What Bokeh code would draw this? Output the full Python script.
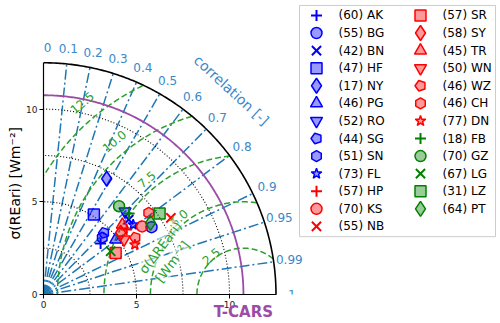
import numpy as np
from bokeh.plotting import figure
from bokeh.models import Range1d, FixedTicker, Label, Title, LinearAxis
from bokeh.core.properties import value
from bokeh.embed import file_html
from bokeh.resources import INLINE

# ---------------- data ----------------
stations = ["AK", "BG", "BN", "HF", "NY", "PG", "RO", "SG", "SN", "FL",
            "HP", "KS", "NB", "SR", "SY", "TR", "WN", "WZ", "CH", "DN",
            "FB", "GZ", "LG", "LZ", "PT"]
counts = [60, 55, 42, 47, 17, 46, 52, 44, 51, 73,
          57, 70, 55, 57, 58, 45, 50, 46, 46, 77,
          18, 70, 67, 31, 64]
groups = ["blue"] * 10 + ["red"] * 10 + ["green"] * 5
marker_names = ["cross", "circle", "x", "square", "diamond", "triangle",
                "inverted_triangle", "pentagon", "hex", "star",
                "cross", "circle", "x", "square", "diamond", "triangle",
                "inverted_triangle", "pentagon", "hex", "star",
                "cross", "circle", "x", "square", "diamond"]
std_values = [4.12, 6.85, 6.11, 5.09, 7.11, 4.88, 6.27, 4.65, 4.40, 6.12,
              5.68, 6.45, 8.00, 4.48, 5.32, 5.67, 5.25, 5.81, 7.17, 5.60,
              6.35, 6.26, 4.30, 7.62, 6.93]
corr_values = [0.745, 0.848, 0.750, 0.532, 0.478, 0.795, 0.699, 0.699, 0.718, 0.788,
               0.787, 0.822, 0.856, 0.866, 0.780, 0.748, 0.825, 0.849, 0.789, 0.877,
               0.725, 0.649, 0.840, 0.819, 0.830]
ref_std = 10.75
ref_name = "T-CARS"
corr_ticks = [0.0, 0.1, 0.2, 0.3, 0.4, 0.5, 0.6, 0.7, 0.8, 0.9, 0.95, 0.99, 1.0]
corr_tick_labels = ["0", "0.1", "0.2", "0.3", "0.4", "0.5", "0.6", "0.7", "0.8",
                    "0.9", "0.95", "0.99", "1"]
std_levels = [2.5, 5.0, 7.5, 10.0]
rms_levels = [2.5, 5.0, 7.5, 10.0, 12.5]
rms_labels = ["2.5", "5.0", "7.5", "10.0", "12.5"]
axis_ticks = [0, 5, 10]
max_std = 12.5

# ---------------- styles ----------------
FONT = "DejaVu Sans"
COL = {"blue": "#0000ff", "red": "#ff0000", "green": "#008000"}
COR_COL = "#1f77b4"
COR_TXT = "#3a88c9"
RMS_COL = "#2ca02c"
REF_COL = "#9a4ca6"
SCALE = 18.6
OX, OY = 43, 295          # canvas pixel of the diagram origin
W, H = 500, 323
FW, FH = W - OX, OY

p = figure(width=W, height=H, title=None,
           x_range=Range1d(0, FW / SCALE), y_range=Range1d(0, FH / SCALE),
           output_backend="svg", toolbar_location=None,
           min_border_left=OX, min_border_right=0, min_border_top=0, min_border_bottom=H - OY)
p.grid.visible = False
p.outline_line_color = None
for ax in (p.xaxis[0], p.yaxis[0]):
    ax.bounds = (0, max_std)
    ax.ticker = FixedTicker(ticks=axis_ticks)
    ax.minor_tick_line_color = None
    ax.major_tick_out = 4
    ax.major_tick_in = 0
    ax.major_label_text_font = FONT
    ax.major_label_text_font_size = "9px"
    ax.major_label_text_color = "#222222"
    ax.axis_line_color = "black"
    ax.axis_line_width = 1.2
    ax.major_label_standoff = 2

# reference name below the axis, at the reference std position
ax2 = LinearAxis(ticker=FixedTicker(ticks=[ref_std]), major_label_overrides={ref_std: ref_name},
                 axis_line_color=None, major_tick_line_color=None, minor_tick_line_color=None,
                 major_tick_out=0, major_tick_in=0, major_label_standoff=-8,
                 major_label_text_font=FONT, major_label_text_font_size="15px",
                 major_label_text_font_style="bold", major_label_text_color=REF_COL)
p.add_layout(ax2, "below")

# y label
p.add_layout(Title(text="σ(REari) [Wm⁻²]", align="left", offset=55, standoff=2,
                   text_font=FONT, text_font_size="14px", text_font_style="normal",
                   text_color="black"), "left")

t = np.linspace(0, np.pi / 2, 200)

# correlation rays
xs, ys = [], []
for c in corr_ticks[1:-1]:
    s = np.sqrt(1 - c * c)
    xs.append([0, max_std * c])
    ys.append([0, max_std * s])
p.multi_line(xs, ys, line_color=COR_COL, line_width=1.5, line_dash="10 3 2 3")

# std dotted arcs
p.multi_line([list(r * np.cos(t)) for r in std_levels], [list(r * np.sin(t)) for r in std_levels],
             line_color="black", line_width=1.1, line_dash="1 2")

# RMS circles around reference
tt = np.linspace(0, np.pi, 600)
for rr in rms_levels:
    cx = ref_std + rr * np.cos(tt)
    cy = rr * np.sin(tt)
    mask = (np.hypot(cx, cy) > max_std) | (cx < 0)
    cx = np.where(mask, np.nan, cx)
    cy = np.where(mask, np.nan, cy)
    p.line(cx, cy, line_color=RMS_COL, line_width=1.5, line_dash="6 3")

# reference arc and outer arc
p.line(ref_std * np.cos(t), ref_std * np.sin(t), line_color=REF_COL, line_width=1.8)
p.line(max_std * np.cos(t), max_std * np.sin(t), line_color="black", line_width=1.6)

SIZES = {"cross": 11, "x": 13, "circle": 11, "square": 11, "diamond": 15,
         "triangle": 12, "inverted_triangle": 12, "star": 11}


def draw_marker(x, y, i):
    col = COL[groups[i]]
    mk = marker_names[i]
    kw = dict(line_color=col, fill_color=col, fill_alpha=0.4, line_width=1.5)
    if mk == "pentagon":
        try:
            return p.ngon(x=x, y=y, radius=5.5, radius_units="screen", n=5,
                          angle=np.pi / 10, **kw)
        except Exception:
            return p.scatter(x=x, y=y, marker="hex", size=10, **kw)
    if mk == "hex":
        return p.scatter(x=x, y=y, marker="hex", size=11, angle=np.pi / 6, **kw)
    if mk in ("cross", "x"):
        kw["line_width"] = 2
    return p.scatter(x=x, y=y, marker=mk, size=SIZES[mk], **kw)


# data points
for i in range(len(stations)):
    c = corr_values[i]
    draw_marker([std_values[i] * c], [std_values[i] * np.sqrt(1 - c * c)], i)

# correlation labels
for c, lab in zip(corr_ticks, corr_tick_labels):
    a = np.arccos(c)
    lx = max(13.35 * np.cos(a), 0.22)
    p.add_layout(Label(x=lx, y=13.35 * np.sin(a), text=lab,
                       text_align="center", text_baseline="middle",
                       text_font=FONT, text_font_size="12px", text_color=COR_TXT))
ca = np.deg2rad(47.5)
p.add_layout(Label(x=14.95 * np.cos(ca), y=14.95 * np.sin(ca), text="correlation [-]",
                   angle=ca - np.pi / 2, text_align="center", text_baseline="middle",
                   text_font=FONT, text_font_size="14px", text_color=COR_TXT))

# RMS labels
la = np.deg2rad(130)
for rr, lab in zip(rms_levels, rms_labels):
    p.add_layout(Label(x=ref_std + 1.08 * rr * np.cos(la), y=1.08 * rr * np.sin(la), text=lab,
                       angle=la - np.pi / 2, text_align="center", text_baseline="middle",
                       text_font=FONT, text_font_size="12px", text_color=RMS_COL))
for (lx, ly, lab) in [(ref_std - 4.46, 2.53, "σ(ΔREari)"), (ref_std - 3.81, 1.77, "[Wm⁻²]")]:
    p.add_layout(Label(x=lx, y=ly, text=lab, angle=np.deg2rad(53),
                       text_align="center", text_baseline="middle",
                       text_font=FONT, text_font_size="13px", text_color=RMS_COL,
                       background_fill_color="white", background_fill_alpha=0.6))

# ---------------- legend (two columns, one box) ----------------
def sx(px):
    return (px - OX) / SCALE


def sy(py):
    return (OY - py) / SCALE


p.quad(left=[sx(299)], right=[sx(495)], top=[sy(5)], bottom=[sy(237)],
       fill_color="white", fill_alpha=0.85, line_color="#cccccc", line_width=1)
ROWS = 13
for i in range(len(stations)):
    col_i, row_i = divmod(i, ROWS)
    gx = 316 + 104 * col_i
    gy = 15 + 17.64 * row_i
    draw_marker([sx(gx)], [sy(gy)], i)
    p.text(x=[sx(gx + 22)], y=[sy(gy)], text=[f"({counts[i]}) {stations[i]}"],
           text_align="left", text_baseline="middle", text_color="black",
           text_font=value(FONT), text_font_size=value("12px"))

open("out.html", "w").write(file_html(p, INLINE))
